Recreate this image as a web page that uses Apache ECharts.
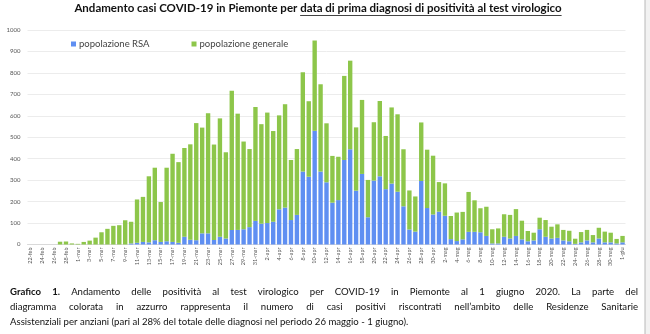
<!DOCTYPE html>
<html>
<head>
<meta charset="utf-8">
<script src="https://cdn.jsdelivr.net/npm/echarts@6/dist/echarts.min.js"></script>
<style>
  html, body { margin: 0; padding: 0; background: #fff; }
  #chart { width: 650px; height: 334px; }
</style>
</head>
<body>
<div id="chart"></div>
<script>
// Day labels, 22 February to 1 June 2020
const monthSpans = [['feb', 22, 29], ['mar', 1, 31], ['apr', 1, 30], ['mag', 1, 31], ['giu', 1, 1]];
const dates = [];
for (const [m, first, last] of monthSpans) {
  for (let d = first; d <= last; d++) dates.push(d + '-' + m);
}

// New positive cases per day, nursing-home residents (RSA)
const rsa = [
  0, 0, 0, 0, 0, 0, 0, 0, 0, 0,
  0, 0, 0, 0, 0, 0, 0, 5, 8, 12,
  10, 20, 12, 15, 12, 8, 36, 22, 20, 52,
  52, 21, 36, 28, 68, 68, 71, 81, 110, 97,
  100, 106, 164, 172, 114, 138, 340, 316, 530, 340,
  290, 195, 207, 394, 444, 251, 329, 127, 298, 318,
  258, 284, 246, 178, 70, 60, 296, 170, 140, 153,
  134, 25, 16, 24, 59, 59, 57, 40, 5, 5,
  36, 28, 40, 24, 15, 19, 71, 36, 28, 31,
  19, 15, 3, 10, 19, 10, 28, 10, 10, 5,
  10
];

// New positive cases per day, general population
const generale = [
  0, 0, 0, 0, 0, 13, 14, 5, 3, 12,
  18, 32, 57, 73, 87, 90, 113, 101, 202, 210,
  308, 338, 186, 343, 411, 376, 414, 445, 546, 493,
  560, 445, 552, 402, 649, 542, 409, 364, 531, 464,
  515, 423, 438, 482, 280, 307, 463, 352, 421, 407,
  275, 218, 202, 392, 413, 295, 345, 174, 272, 351,
  248, 355, 361, 266, 182, 164, 273, 272, 274, 138,
  151, 108, 133, 128, 186, 147, 112, 136, 66, 70,
  105, 110, 125, 87, 48, 36, 54, 78, 55, 63,
  49, 49, 24, 48, 49, 34, 50, 50, 45, 21,
  30
];

const seriesNames = ['popolazione RSA', 'popolazione generale'];
const titleLead = 'Andamento casi COVID-19 in Piemonte per ';
const titleUnderlined = 'data di prima diagnosi di positività al test virologico';
const captionLines = [
  'Grafico 1. Andamento delle positività al test virologico per COVID-19 in Piemonte al 1 giugno 2020. La parte del',
  'diagramma colorata in azzurro rappresenta il numero di casi positivi riscontrati nell\u2019ambito delle Residenze Sanitarie',
  'Assistenziali per anziani (pari al 28% del totale delle diagnosi nel periodo 26 maggio - 1 giugno).'
];

const FONT = 'Lato';
const BLUE = '#5f8ff2';
const GREEN = '#8dc64a';

const measureCtx = document.createElement('canvas').getContext('2d');
function textWidth(text, size, weight) {
  measureCtx.font = weight + ' ' + size + 'px ' + FONT;
  return measureCtx.measureText(text).width;
}

// Title: lead text plus an underlined part, centred as one line
const TITLE_SIZE = 11.5;
const wLead = textWidth(titleLead, TITLE_SIZE, 'bold');
const wUnder = textWidth(titleUnderlined, TITLE_SIZE, 'bold');
const titleX = 318 - (wLead + wUnder) / 2;
const titleY = 9;
const graphics = [
  { type: 'text', left: titleX, top: titleY - 7,
    style: { text: titleLead, font: 'bold ' + TITLE_SIZE + 'px ' + FONT, fill: '#111' } },
  { type: 'text', left: titleX + wLead, top: titleY - 7,
    style: { text: titleUnderlined, font: 'bold ' + TITLE_SIZE + 'px ' + FONT, fill: '#111' } },
  { type: 'line', shape: { x1: titleX + wLead, y1: titleY + 6.5, x2: titleX + wLead + wUnder, y2: titleY + 6.5 },
    style: { stroke: '#111', lineWidth: 0.8 } },
  // page edge on the right
  { type: 'rect', shape: { x: 645, y: 0, width: 5, height: 334 }, style: { fill: '#f2f2f2' } },
  { type: 'line', shape: { x1: 645, y1: 0, x2: 645, y2: 334 }, style: { stroke: '#b8b8b8', lineWidth: 1 } }
];

// Caption, justified between the margins except for the last line
const CAP_SIZE = 9.6;
const capLeft = 10, capRight = 638;
const capY = [293, 308, 323];
captionLines.forEach((line, li) => {
  const words = line.split(' ');
  const weights = words.map((w, wi) => (li === 0 && wi < 2) ? 'bold' : 'normal');
  const widths = words.map((w, wi) => textWidth(w, CAP_SIZE, weights[wi]));
  const sum = widths.reduce((a, b) => a + b, 0);
  const justify = li < captionLines.length - 1;
  const gap = justify ? (capRight - capLeft - sum) / (words.length - 1) : textWidth(' ', CAP_SIZE, 'normal');
  let x = capLeft;
  words.forEach((w, wi) => {
    graphics.push({ type: 'text', left: x, top: capY[li] - 6,
      style: { text: w, font: weights[wi] + ' ' + CAP_SIZE + 'px ' + FONT, fill: '#111' } });
    x += widths[wi] + gap;
  });
});

const chart = echarts.init(document.getElementById('chart'), null, { renderer: 'canvas' });
chart.setOption({
  animation: false,
  backgroundColor: '#fff',
  textStyle: { fontFamily: FONT },
  legend: {
    data: seriesNames,
    left: 66, top: 34,
    itemWidth: 5, itemHeight: 5, itemGap: 42,
    icon: 'rect',
    textStyle: { fontSize: 9.5, color: '#444', fontFamily: FONT, padding: [0, 0, 0, -2] }
  },
  grid: { left: 27.5, top: 30, width: 598, height: 214.5, containLabel: false },
  xAxis: {
    type: 'category',
    data: dates,
    axisTick: { show: false },
    axisLine: { lineStyle: { color: '#d9d9d9', width: 1 } },
    axisLabel: { interval: 1, rotate: 90, fontSize: 5.5, color: '#555', margin: 3, fontFamily: FONT }
  },
  yAxis: {
    type: 'value',
    min: 0, max: 1000, interval: 100,
    axisLine: { show: false },
    axisTick: { show: false },
    axisLabel: { fontSize: 6, color: '#555', margin: 7, fontFamily: FONT, formatter: v => String(v) },
    splitLine: { lineStyle: { color: '#ececec', width: 1 } }
  },
  series: [
    { name: seriesNames[0], type: 'bar', stack: 'casi', data: rsa,
      itemStyle: { color: BLUE }, barCategoryGap: '26%' },
    { name: seriesNames[1], type: 'bar', stack: 'casi', data: generale,
      itemStyle: { color: GREEN }, barCategoryGap: '26%' }
  ],
  graphic: graphics
});
</script>
</body>
</html>
